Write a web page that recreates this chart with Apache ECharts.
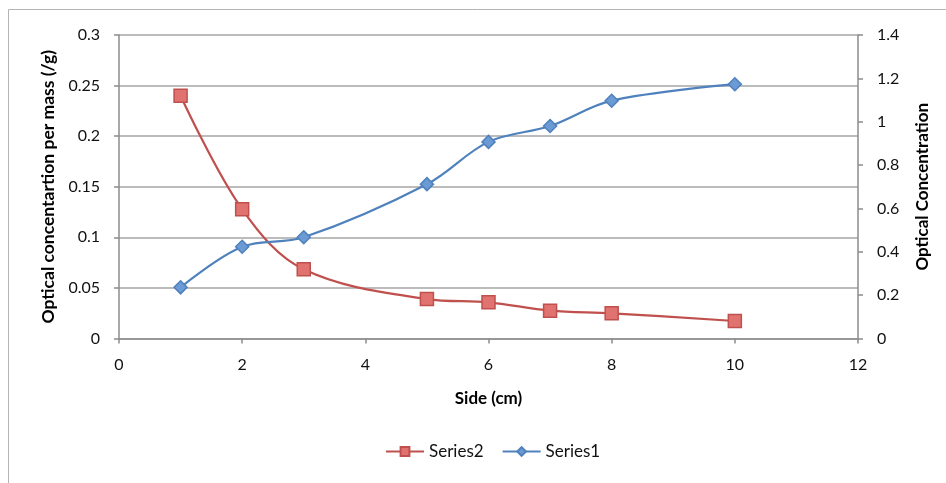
<!DOCTYPE html>
<html><head><meta charset="utf-8">
<script src="https://cdn.jsdelivr.net/npm/echarts@6/dist/echarts.min.js"></script>
<style>html,body{margin:0;padding:0;background:#fff}#c{width:946px;height:483px}</style>
</head><body><div id="c"></div>
<script>
const xValues = [1, 2, 3, 5, 6, 7, 8, 10];
const series2Values = [0.240, 0.1277, 0.0684, 0.039, 0.0358, 0.0275, 0.0249, 0.0173];
const series1Values = [0.236, 0.423, 0.467, 0.712, 0.907, 0.980, 1.097, 1.173];
const xTicks = [0, 2, 4, 6, 8, 10, 12];
const leftTicks = [0, 0.05, 0.1, 0.15, 0.2, 0.25, 0.3];
const rightTicks = [0, 0.2, 0.4, 0.6, 0.8, 1, 1.2, 1.4];

const font = 'Lato, "Open Sans", sans-serif';
const axisGray = '#8c8c8c';
const chart = echarts.init(document.getElementById('c'), null, {renderer: 'canvas'});
chart.setOption({
  animation: false,
  textStyle: {fontFamily: font},
  graphic: [
    {type: 'polyline', shape: {points: [[8.5, 483], [8.5, 9.5], [946, 9.5]]}, style: {stroke: '#b4b4b4', lineWidth: 1, fill: null}}
  ],
  grid: {left: 119, right: 88, top: 35, bottom: 144.5, containLabel: false},
  legend: {
    data: ['Series2', 'Series1'],
    bottom: 18, left: 380,
    itemWidth: 38, itemHeight: 11, itemGap: 18,
    textStyle: {fontSize: 17, color: '#111', fontFamily: font}
  },
  xAxis: {
    type: 'value', min: xTicks[0], max: xTicks[xTicks.length - 1], interval: 2,
    name: 'Side (cm)', nameLocation: 'middle', nameGap: 52,
    nameTextStyle: {fontSize: 17, fontWeight: 'bold', color: '#000', fontFamily: font},
    axisLine: {lineStyle: {color: axisGray, width: 1.5}},
    axisTick: {show: true, length: 5, lineStyle: {color: axisGray, width: 1.5}},
    axisLabel: {fontSize: 16, color: '#111', margin: 18, fontFamily: font},
    splitLine: {show: false}
  },
  yAxis: [
    {
      type: 'value', min: leftTicks[0], max: leftTicks[leftTicks.length - 1], interval: 0.05,
      position: 'left',
      name: 'Optical concentartion per mass (/g)', nameLocation: 'middle', nameGap: 60, nameRotate: 90,
      nameTextStyle: {fontSize: 17.5, fontWeight: 'bold', color: '#000', fontFamily: font},
      axisLine: {show: true, lineStyle: {color: axisGray, width: 1.5}},
      axisTick: {show: true, length: 5, lineStyle: {color: axisGray, width: 1.5}},
      axisLabel: {fontSize: 16, color: '#111', margin: 19, fontFamily: font},
      splitLine: {show: true, lineStyle: {color: '#a6a6a6', width: 1.5}}
    },
    {
      type: 'value', min: rightTicks[0], max: rightTicks[rightTicks.length - 1], interval: 0.2,
      position: 'right',
      name: 'Optical Concentration', nameLocation: 'middle', nameGap: 56, nameRotate: 90,
      nameTextStyle: {fontSize: 17, fontWeight: 'bold', color: '#000', fontFamily: font},
      axisLine: {show: true, lineStyle: {color: axisGray, width: 1.5}},
      axisTick: {show: true, length: 5, lineStyle: {color: axisGray, width: 1.5}},
      axisLabel: {fontSize: 16, color: '#111', margin: 19, fontFamily: font},
      splitLine: {show: false}
    }
  ],
  series: [
    {
      name: 'Series2', type: 'line', yAxisIndex: 0, smooth: 0.35,
      data: xValues.map((x, i) => [x, series2Values[i]]),
      symbol: 'rect', symbolSize: 13,
      lineStyle: {color: '#c0504d', width: 2.2},
      itemStyle: {color: '#e07370', borderColor: '#c0504d', borderWidth: 1.5}
    },
    {
      name: 'Series1', type: 'line', yAxisIndex: 1, smooth: 0.35,
      data: xValues.map((x, i) => [x, series1Values[i]]),
      symbol: 'diamond', symbolSize: 13,
      lineStyle: {color: '#4f81bd', width: 2.2},
      itemStyle: {color: '#6b9ad4', borderColor: '#4f81bd', borderWidth: 1.5}
    }
  ]
});
</script></body></html>
